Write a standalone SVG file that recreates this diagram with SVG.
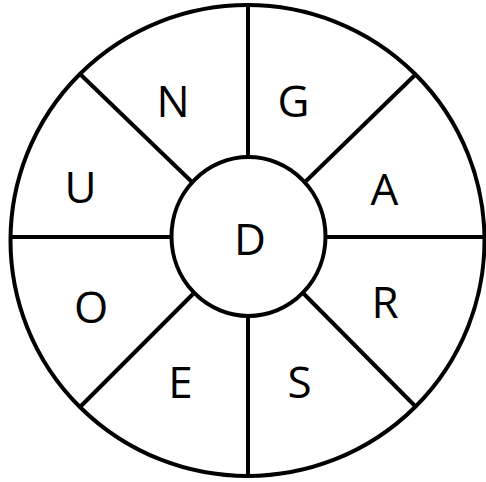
<svg xmlns="http://www.w3.org/2000/svg" width="486" height="482" viewBox="0 0 486 482">
<style>
.ln{stroke:#000;stroke-width:4;fill:none}
.t{font-family:"Open Sans","Liberation Sans",sans-serif;font-size:44px;fill:#000;text-anchor:middle}
</style>
<rect width="486" height="482" fill="#fff"/>
<g id="connectors">
<line class="ln" x1="248" y1="5" x2="248" y2="159"/>
<line class="ln" x1="248" y1="315" x2="248" y2="476"/>
<line class="ln" x1="10" y1="237" x2="171" y2="237"/>
<line class="ln" x1="325" y1="237" x2="485" y2="237"/>
<line class="ln" x1="80" y1="74" x2="193" y2="183"/>
<line class="ln" x1="416" y1="74" x2="304" y2="183"/>
<line class="ln" x1="80" y1="407" x2="193" y2="294"/>
<line class="ln" x1="416" y1="407" x2="304" y2="294"/>
</g>
<g id="outer"><ellipse class="ln" cx="247.5" cy="240.5" rx="237" ry="235.5"/></g>
<g id="center"><ellipse class="ln" cx="248.5" cy="236.5" rx="77" ry="79.5"/><text class="t" x="250" y="255">D</text></g>
<g id="n"><text class="t" x="173" y="117">N</text></g>
<g id="g"><text class="t" x="293.5" y="117">G</text></g>
<g id="u"><text class="t" x="80.5" y="203">U</text></g>
<g id="a"><text class="t" x="384.5" y="205">A</text></g>
<g id="o"><text class="t" x="91" y="323">O</text></g>
<g id="r"><text class="t" x="385" y="318">R</text></g>
<g id="e"><text class="t" x="180.5" y="398">E</text></g>
<g id="s"><text class="t" x="299.5" y="398">S</text></g>
</svg>
